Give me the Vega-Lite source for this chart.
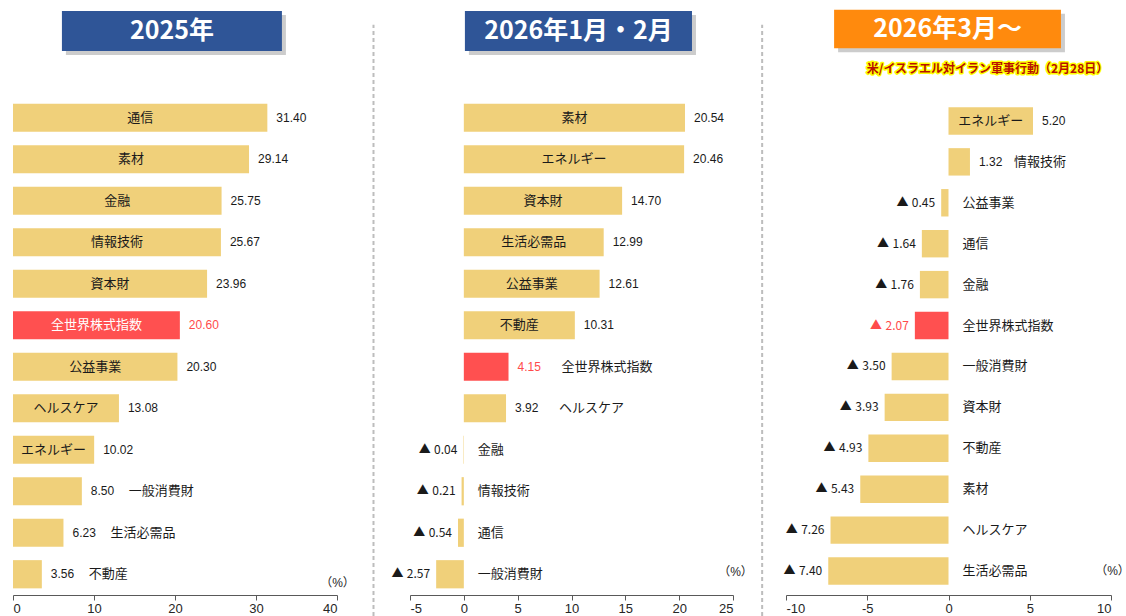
{
  "$schema": "https://vega.github.io/schema/vega-lite/v6.json",
  "padding": {"left": 12, "top": 9, "right": 0, "bottom": 0},
  "autosize": {"type": "pad"},
  "background": "white",
  "config": {
    "locale": {"number": {"decimal": ".", "thousands": ",", "grouping": [3], "currency": ["", ""], "minus": "-"}},
    "view": {"stroke": null},
    "font": "Liberation Sans",
    "text": {"font": "Liberation Sans, Noto Sans CJK JP", "fontSize": 12, "baseline": "middle", "color": "#1a1a1a"},
    "axis": {"grid": false, "tickSize": 5, "domainColor": "#595959", "tickColor": "#595959", "labelFontSize": 13, "labelColor": "#262626", "labelFont": "Liberation Sans", "labelPadding": 2, "titleFont": "Liberation Sans, Noto Sans CJK JP", "titleFontSize": 12, "titleFontWeight": "normal", "titleColor": "#262626"}
  },
  "datasets": {
    "h1": [{"t": "2025年"}],
    "h2": [{"t": "2026年1月・2月"}],
    "h3": [{"t": "2026年3月～", "sub": "米/イスラエル対イラン軍事行動（2月28日）"}],
    "p1": [
      {"s": "通信", "v": 31.40}, {"s": "素材", "v": 29.14}, {"s": "金融", "v": 25.75}, {"s": "情報技術", "v": 25.67},
      {"s": "資本財", "v": 23.96}, {"s": "全世界株式指数", "v": 20.60}, {"s": "公益事業", "v": 20.30}, {"s": "ヘルスケア", "v": 13.08},
      {"s": "エネルギー", "v": 10.02}, {"s": "一般消費財", "v": 8.50}, {"s": "生活必需品", "v": 6.23}, {"s": "不動産", "v": 3.56}
    ],
    "p2": [
      {"s": "素材", "v": 20.54}, {"s": "エネルギー", "v": 20.46}, {"s": "資本財", "v": 14.70}, {"s": "生活必需品", "v": 12.99},
      {"s": "公益事業", "v": 12.61}, {"s": "不動産", "v": 10.31}, {"s": "全世界株式指数", "v": 4.15}, {"s": "ヘルスケア", "v": 3.92},
      {"s": "金融", "v": -0.04}, {"s": "情報技術", "v": -0.21}, {"s": "通信", "v": -0.54}, {"s": "一般消費財", "v": -2.57}
    ],
    "p3": [
      {"s": "エネルギー", "v": 5.20}, {"s": "情報技術", "v": 1.32}, {"s": "公益事業", "v": -0.45}, {"s": "通信", "v": -1.64},
      {"s": "金融", "v": -1.76}, {"s": "全世界株式指数", "v": -2.07}, {"s": "一般消費財", "v": -3.50}, {"s": "資本財", "v": -3.93},
      {"s": "不動産", "v": -4.93}, {"s": "素材", "v": -5.43}, {"s": "ヘルスケア", "v": -7.26}, {"s": "生活必需品", "v": -7.40}
    ]
  },
  "columns": 5,
  "spacing": {"row": 46, "column": 0},
  "bounds": "flush",
  "concat": [
    {
      "width": 324, "height": 40,
      "data": {"name": "h1"},
      "layer": [
        {"mark": {"type": "rect", "color": "#7f7f7f", "opacity": 0.4, "xOffset": 4, "x2Offset": 4, "yOffset": 4, "y2Offset": 4},
         "encoding": {
           "x": {"datum": 0.151, "type": "quantitative", "scale": {"domain": [0, 1]}, "axis": null},
           "x2": {"datum": 0.830},
           "y": {"datum": 0, "type": "quantitative", "scale": {"domain": [0, 1]}, "axis": null},
           "y2": {"datum": 1}
         }},
        {"mark": {"type": "rect", "color": "#2F5597"},
         "encoding": {
           "x": {"datum": 0.151, "type": "quantitative"},
           "x2": {"datum": 0.830},
           "y": {"datum": 0, "type": "quantitative"},
           "y2": {"datum": 1}
         }},
        {"mark": {"type": "text", "color": "white", "font": "Noto Sans CJK JP", "fontSize": 25, "fontWeight": "bold", "align": "center"},
         "encoding": {"x": {"datum": 0.4905, "type": "quantitative"}, "y": {"datum": 0.5, "type": "quantitative"}, "text": {"field": "t"}}}
      ]
    },
    {
      "width": 73, "height": 40,
      "data": {"values": [{}]},
      "mark": {"type": "text"},
      "encoding": {"text": {"value": ""}}
    },
    {
      "width": 323, "height": 40,
      "data": {"name": "h2"},
      "layer": [
        {"mark": {"type": "rect", "color": "#7f7f7f", "opacity": 0.4, "xOffset": 4, "x2Offset": 4, "yOffset": 4, "y2Offset": 4},
         "encoding": {
           "x": {"datum": 0.170, "type": "quantitative", "scale": {"domain": [0, 1]}, "axis": null},
           "x2": {"datum": 0.873},
           "y": {"datum": 0, "type": "quantitative", "scale": {"domain": [0, 1]}, "axis": null},
           "y2": {"datum": 1}
         }},
        {"mark": {"type": "rect", "color": "#2F5597"},
         "encoding": {
           "x": {"datum": 0.170, "type": "quantitative"},
           "x2": {"datum": 0.873},
           "y": {"datum": 0, "type": "quantitative"},
           "y2": {"datum": 1}
         }},
        {"mark": {"type": "text", "color": "white", "font": "Noto Sans CJK JP", "fontSize": 25, "fontWeight": "bold", "align": "center"},
         "encoding": {"x": {"datum": 0.5215, "type": "quantitative"}, "y": {"datum": 0.5, "type": "quantitative"}, "text": {"field": "t"}}}
      ]
    },
    {
      "width": 53, "height": 40,
      "data": {"values": [{}]},
      "mark": {"type": "text"},
      "encoding": {"text": {"value": ""}}
    },
    {
      "width": 325, "height": 40,
      "data": {"name": "h3"},
      "layer": [
        {"mark": {"type": "rect", "color": "#7f7f7f", "opacity": 0.4, "xOffset": 4, "x2Offset": 4, "yOffset": 4, "y2Offset": 4},
         "encoding": {
           "x": {"datum": 0.148, "type": "quantitative", "scale": {"domain": [0, 1]}, "axis": null},
           "x2": {"datum": 0.846},
           "y": {"datum": 0.07, "type": "quantitative", "scale": {"domain": [0, 1]}, "axis": null},
           "y2": {"datum": 1.03}
         }},
        {"mark": {"type": "rect", "color": "#FF8A0D"},
         "encoding": {
           "x": {"datum": 0.148, "type": "quantitative"},
           "x2": {"datum": 0.846},
           "y": {"datum": 0.07, "type": "quantitative"},
           "y2": {"datum": 1.03}
         }},
        {"mark": {"type": "text", "color": "white", "font": "Noto Sans CJK JP", "fontSize": 25, "fontWeight": "bold", "align": "center"},
         "encoding": {"x": {"datum": 0.497, "type": "quantitative"}, "y": {"datum": 0.55, "type": "quantitative"}, "text": {"field": "t"}}},
        {"mark": {"type": "text", "color": "#FFFF00", "stroke": "#FFFF00", "strokeWidth": 3, "strokeJoin": "round", "font": "Noto Sans CJK JP", "fontSize": 12, "fontWeight": "bold", "align": "center"},
         "encoding": {"x": {"datum": 0.62, "type": "quantitative"}, "y": {"datum": -0.45, "type": "quantitative"}, "text": {"field": "sub"}}},
        {"mark": {"type": "text", "color": "#B81000", "font": "Noto Sans CJK JP", "fontSize": 12, "fontWeight": "bold", "align": "center"},
         "encoding": {"x": {"datum": 0.62, "type": "quantitative"}, "y": {"datum": -0.45, "type": "quantitative"}, "text": {"field": "sub"}}}
      ]
    },
    {
      "width": 324, "height": 498,
      "data": {"name": "p1"},
      "transform": [
        {"calculate": "datum.v / 2", "as": "mid"},
        {"calculate": "(datum.v < 0 ? '▲ \u200A' : '') + format(abs(datum.v), '.2f')", "as": "lbl"}
      ],
      "encoding": {
        "y": {"field": "s", "type": "nominal", "axis": null,
              "scale": {"domain": ["通信","素材","金融","情報技術","資本財","全世界株式指数","公益事業","ヘルスケア","エネルギー","一般消費財","生活必需品","不動産"], "paddingInner": 0.32, "paddingOuter": 0.16}}
      },
      "layer": [
        {"mark": {"type": "bar"},
         "encoding": {
           "x": {"field": "v", "type": "quantitative", "scale": {"domain": [0, 40], "nice": false},
                 "axis": {"values": [0, 10, 20, 30, 40], "title": "（%）", "titleX": 324, "titleY": -18, "titleAlign": "center", "titleBaseline": "top"}},
           "color": {"condition": {"test": "datum.s === '全世界株式指数'", "value": "#FF5050"}, "value": "#F0D07A"}
         }},
        {"mark": {"type": "rule", "color": "#1a1a1a", "strokeWidth": 1}, "encoding": {"x": {"datum": 0, "type": "quantitative"}}},
        {"transform": [{"filter": "datum.v >= 0"}],
         "mark": {"type": "text", "align": "left", "dx": 9},
         "encoding": {"x": {"field": "v", "type": "quantitative"}, "text": {"field": "lbl"},
           "color": {"condition": {"test": "datum.s === '全世界株式指数'", "value": "#FF4B4B"}, "value": "#1a1a1a"}}},
        {"transform": [{"filter": "datum.v >= 10"}],
         "mark": {"type": "text", "align": "center", "fontSize": 13},
         "encoding": {"x": {"field": "mid", "type": "quantitative"}, "text": {"field": "s"},
           "color": {"condition": {"test": "datum.s === '全世界株式指数'", "value": "white"}, "value": "#1a1a1a"}}},
        {"transform": [{"filter": "datum.v >= 0 && datum.v < 10"}],
         "mark": {"type": "text", "align": "left", "dx": 47, "fontSize": 13},
         "encoding": {"x": {"field": "v", "type": "quantitative"}, "text": {"field": "s"}}}
      ]
    },
    {
      "width": 73, "height": 498,
      "data": {"values": [{}]},
      "mark": {"type": "rule", "color": "#BDBDBD", "strokeWidth": 2, "strokeDash": [4, 3]},
      "encoding": {
        "x": {"datum": 0.5, "type": "quantitative", "scale": {"domain": [0, 1]}, "axis": null},
        "y": {"datum": -0.042, "type": "quantitative", "scale": {"domain": [0, 1], "nice": false, "zero": false}, "axis": null},
        "y2": {"datum": 1.145}
      }
    },
    {
      "width": 323, "height": 498,
      "data": {"name": "p2"},
      "transform": [
        {"calculate": "datum.v / 2", "as": "mid"},
        {"calculate": "(datum.v < 0 ? '▲ \u200A' : '') + format(abs(datum.v), '.2f')", "as": "lbl"}
      ],
      "encoding": {
        "y": {"field": "s", "type": "nominal", "axis": null,
              "scale": {"domain": ["素材","エネルギー","資本財","生活必需品","公益事業","不動産","全世界株式指数","ヘルスケア","金融","情報技術","通信","一般消費財"], "paddingInner": 0.32, "paddingOuter": 0.16}}
      },
      "layer": [
        {"mark": {"type": "bar"},
         "encoding": {
           "x": {"field": "v", "type": "quantitative", "scale": {"domain": [-5, 25], "nice": false},
                 "axis": {"values": [-5, 0, 5, 10, 15, 20, 25], "title": "（%）", "titleX": 325, "titleY": -29, "titleAlign": "center", "titleBaseline": "top"}},
           "color": {"condition": {"test": "datum.s === '全世界株式指数'", "value": "#FF5050"}, "value": "#F0D07A"}
         }},
        {"mark": {"type": "rule", "color": "#1a1a1a", "strokeWidth": 1}, "encoding": {"x": {"datum": 0, "type": "quantitative"}}},
        {"transform": [{"filter": "datum.v >= 0"}],
         "mark": {"type": "text", "align": "left", "dx": 9},
         "encoding": {"x": {"field": "v", "type": "quantitative"}, "text": {"field": "lbl"},
           "color": {"condition": {"test": "datum.s === '全世界株式指数'", "value": "#FF4B4B"}, "value": "#1a1a1a"}}},
        {"transform": [{"filter": "datum.v < 0"}],
         "mark": {"type": "text", "align": "right", "dx": -6, "font": "Noto Sans CJK JP"},
         "encoding": {"x": {"field": "v", "type": "quantitative"}, "text": {"field": "lbl"},
           "color": {"condition": {"test": "datum.s === '全世界株式指数'", "value": "#FF4B4B"}, "value": "#1a1a1a"}}},
        {"transform": [{"filter": "datum.v >= 10"}],
         "mark": {"type": "text", "align": "center", "fontSize": 13},
         "encoding": {"x": {"field": "mid", "type": "quantitative"}, "text": {"field": "s"},
           "color": {"condition": {"test": "datum.s === '全世界株式指数'", "value": "white"}, "value": "#1a1a1a"}}},
        {"transform": [{"filter": "datum.v >= 0 && datum.v < 10"}],
         "mark": {"type": "text", "align": "left", "dx": 53, "fontSize": 13},
         "encoding": {"x": {"field": "v", "type": "quantitative"}, "text": {"field": "s"}}},
        {"transform": [{"filter": "datum.v < 0"}],
         "mark": {"type": "text", "align": "left", "dx": 14, "fontSize": 13},
         "encoding": {"x": {"datum": 0, "type": "quantitative"}, "text": {"field": "s"}}}
      ]
    },
    {
      "width": 53, "height": 498,
      "data": {"values": [{}]},
      "mark": {"type": "rule", "color": "#BDBDBD", "strokeWidth": 2, "strokeDash": [4, 3]},
      "encoding": {
        "x": {"datum": 0.55, "type": "quantitative", "scale": {"domain": [0, 1]}, "axis": null},
        "y": {"datum": -0.042, "type": "quantitative", "scale": {"domain": [0, 1], "nice": false, "zero": false}, "axis": null},
        "y2": {"datum": 1.145}
      }
    },
    {
      "width": 325, "height": 498,
      "data": {"name": "p3"},
      "transform": [
        {"calculate": "datum.v / 2", "as": "mid"},
        {"calculate": "(datum.v < 0 ? '▲ \u200A' : '') + format(abs(datum.v), '.2f')", "as": "lbl"}
      ],
      "encoding": {
        "y": {"field": "s", "type": "nominal", "axis": null,
              "scale": {"domain": ["エネルギー","情報技術","公益事業","通信","金融","全世界株式指数","一般消費財","資本財","不動産","素材","ヘルスケア","生活必需品"], "paddingInner": 0.33, "paddingOuter": 0.25}}
      },
      "layer": [
        {"mark": {"type": "bar"},
         "encoding": {
           "x": {"field": "v", "type": "quantitative", "scale": {"domain": [-10, 10], "nice": false},
                 "axis": {"values": [-10, -5, 0, 5, 10], "title": "（%）", "titleX": 326, "titleY": -30, "titleAlign": "center", "titleBaseline": "top"}},
           "color": {"condition": {"test": "datum.s === '全世界株式指数'", "value": "#FF5050"}, "value": "#F0D07A"}
         }},
        {"mark": {"type": "rule", "color": "#1a1a1a", "strokeWidth": 1}, "encoding": {"x": {"datum": 0, "type": "quantitative"}}},
        {"transform": [{"filter": "datum.v >= 0"}],
         "mark": {"type": "text", "align": "left", "dx": 9},
         "encoding": {"x": {"field": "v", "type": "quantitative"}, "text": {"field": "lbl"},
           "color": {"condition": {"test": "datum.s === '全世界株式指数'", "value": "#FF4B4B"}, "value": "#1a1a1a"}}},
        {"transform": [{"filter": "datum.v < 0"}],
         "mark": {"type": "text", "align": "right", "dx": -6, "font": "Noto Sans CJK JP"},
         "encoding": {"x": {"field": "v", "type": "quantitative"}, "text": {"field": "lbl"},
           "color": {"condition": {"test": "datum.s === '全世界株式指数'", "value": "#FF4B4B"}, "value": "#1a1a1a"}}},
        {"transform": [{"filter": "datum.v >= 5"}],
         "mark": {"type": "text", "align": "center", "fontSize": 13},
         "encoding": {"x": {"field": "mid", "type": "quantitative"}, "text": {"field": "s"},
           "color": {"condition": {"test": "datum.s === '全世界株式指数'", "value": "white"}, "value": "#1a1a1a"}}},
        {"transform": [{"filter": "datum.v >= 0 && datum.v < 5"}],
         "mark": {"type": "text", "align": "left", "dx": 44, "fontSize": 13},
         "encoding": {"x": {"field": "v", "type": "quantitative"}, "text": {"field": "s"}}},
        {"transform": [{"filter": "datum.v < 0"}],
         "mark": {"type": "text", "align": "left", "dx": 14, "fontSize": 13},
         "encoding": {"x": {"datum": 0, "type": "quantitative"}, "text": {"field": "s"}}}
      ]
    }
  ]
}
